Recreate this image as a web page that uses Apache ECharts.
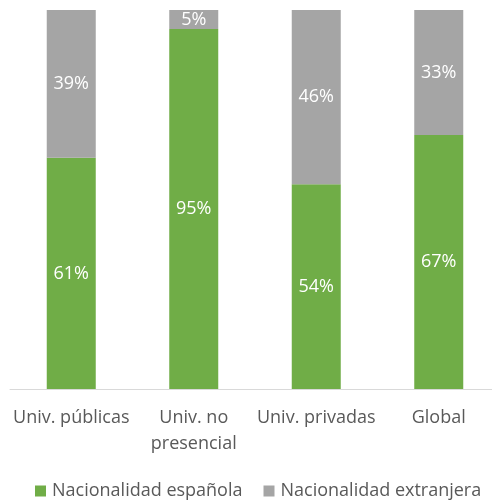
<!DOCTYPE html>
<html><head><meta charset="utf-8">
<script src="https://cdn.jsdelivr.net/npm/echarts@6/dist/echarts.min.js"></script>
<style>html,body{margin:0;padding:0;background:#fff;overflow:hidden}#c{width:500px;height:501px}</style>
</head><body><div id="c"></div>
<script>
const categories = ['Univ. públicas', 'Univ. no\npresencial', 'Univ. privadas', 'Global'];
const espanola = [61, 95, 54, 67];
const extranjera = [39, 5, 46, 33];
const seriesNames = ['Nacionalidad española', 'Nacionalidad extranjera'];

const font = 'Open Sans';
const chart = echarts.init(document.getElementById('c'));
const lbl = {show: true, position: 'inside', color: '#fff', fontSize: 18, fontFamily: font, formatter: '{c}%'};
chart.setOption({
  animation: false,
  grid: {left: 10, right: 0, top: 10, bottom: 112, containLabel: false},
  legend: {
    top: 477, left: 30, width: 470, itemWidth: 11, itemHeight: 11, itemGap: 21, icon: 'rect',
    textStyle: {color: '#595959', fontSize: 18, fontFamily: font, padding: [0, 0, 0, 1]}
  },
  xAxis: {
    type: 'category', data: categories,
    axisLine: {lineStyle: {color: '#d9d9d9'}}, axisTick: {show: false},
    axisLabel: {color: '#595959', fontSize: 18, fontFamily: font, margin: 16, lineHeight: 26, interval: 0}
  },
  yAxis: {type: 'value', min: 0, max: 100, show: false, splitLine: {show: false}},
  series: [
    {name: seriesNames[0], type: 'bar', stack: 's', data: espanola, barWidth: 49, itemStyle: {color: '#70ad47'}, label: lbl},
    {name: seriesNames[1], type: 'bar', stack: 's', data: extranjera, barWidth: 49, itemStyle: {color: '#a5a5a5'}, label: lbl}
  ]
});
</script></body></html>
